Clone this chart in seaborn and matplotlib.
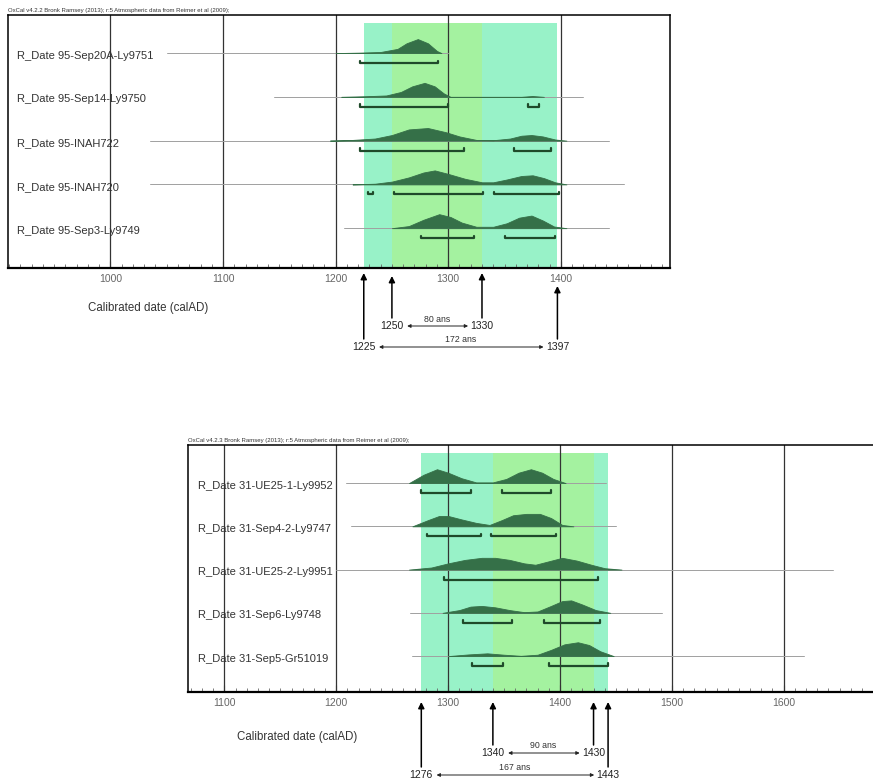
import numpy as np
import matplotlib
matplotlib.use("Agg")
import matplotlib.pyplot as plt
import matplotlib.transforms as mtransforms
import seaborn as sns

sns.set_theme(style="white")
plt.rcParams["font.family"] = ["Liberation Sans", "DejaVu Sans"]

# ---------------- phase 95 (top panel) ----------------
top_title = "OxCal v4.2.2 Bronk Ramsey (2013); r:5 Atmospheric data from Reimer et al (2009);"
top_names = ["R_Date 95-Sep20A-Ly9751", "R_Date 95-Sep14-Ly9750", "R_Date 95-INAH722",
             "R_Date 95-INAH720", "R_Date 95-Sep3-Ly9749"]
top_line_from = [1050, 1145, 1035, 1035, 1207]
top_line_to = [1300, 1420, 1443, 1456, 1443]
top_years = [
    [1200, 1220, 1240, 1255, 1263, 1273, 1282, 1290, 1294],
    [1205, 1225, 1245, 1258, 1268, 1279, 1288, 1296, 1302, 1365, 1375, 1385],
    [1195, 1215, 1235, 1250, 1265, 1282, 1298, 1310, 1325, 1340, 1355, 1365, 1374, 1384, 1395, 1405],
    [1215, 1235, 1250, 1265, 1278, 1288, 1300, 1315, 1330, 1340, 1352, 1365, 1375, 1385, 1395, 1405],
    [1250, 1265, 1278, 1292, 1302, 1312, 1325, 1340, 1352, 1363, 1374, 1384, 1394, 1405],
]
top_dens = [
    [0, 0.03, 0.08, 0.3, 0.7, 1.0, 0.7, 0.15, 0],
    [0, 0.04, 0.1, 0.35, 0.75, 1.0, 0.75, 0.25, 0, 0, 0.06, 0],
    [0, 0.05, 0.15, 0.4, 0.8, 0.9, 0.6, 0.3, 0.05, 0.03, 0.15, 0.35, 0.4, 0.3, 0.08, 0],
    [0, 0.05, 0.2, 0.5, 0.85, 1.0, 0.75, 0.4, 0.15, 0.15, 0.35, 0.6, 0.65, 0.45, 0.15, 0],
    [0, 0.15, 0.6, 1.0, 0.8, 0.4, 0.1, 0.1, 0.35, 0.75, 0.9, 0.55, 0.12, 0],
]
top_ranges = [
    [(1222, 1291)],
    [(1222, 1300), (1371, 1381)],
    [(1222, 1314), (1358, 1391)],
    [(1229, 1233), (1252, 1331), (1341, 1398)],
    [(1276, 1323), (1350, 1395)],
]
top_ticks = [1000, 1100, 1200, 1300, 1400]
top_band = [1225, 1250, 1330, 1397]

# ---------------- phase 31 (bottom panel) ----------------
bot_title = "OxCal v4.2.3 Bronk Ramsey (2013); r:5 Atmospheric data from Reimer et al (2009);"
bot_names = ["R_Date 31-UE25-1-Ly9952", "R_Date 31-Sep4-2-Ly9747", "R_Date 31-UE25-2-Ly9951",
             "R_Date 31-Sep6-Ly9748", "R_Date 31-Sep5-Gr51019"]
bot_line_from = [1209, 1213, 1200, 1266, 1268]
bot_line_to = [1441, 1450, 1644, 1491, 1618]
bot_years = [
    [1265, 1278, 1290, 1300, 1312, 1325, 1340, 1352, 1363, 1374, 1384, 1394, 1405],
    [1268, 1282, 1292, 1300, 1312, 1325, 1337, 1348, 1358, 1370, 1382, 1392, 1402, 1412],
    [1265, 1285, 1300, 1315, 1330, 1342, 1355, 1368, 1378, 1390, 1402, 1415, 1428, 1440, 1455],
    [1295, 1310, 1320, 1330, 1342, 1355, 1368, 1380, 1392, 1402, 1410, 1420, 1432, 1445],
    [1300, 1318, 1335, 1350, 1365, 1380, 1392, 1404, 1416, 1426, 1436, 1448],
]
bot_dens = [
    [0, 0.6, 1.0, 0.75, 0.35, 0.05, 0.05, 0.3, 0.75, 1.0, 0.75, 0.3, 0],
    [0, 0.45, 0.75, 0.75, 0.5, 0.25, 0.1, 0.45, 0.8, 0.9, 0.9, 0.6, 0.1, 0],
    [0, 0.15, 0.45, 0.7, 0.85, 0.85, 0.7, 0.45, 0.35, 0.6, 0.85, 0.65, 0.35, 0.1, 0],
    [0, 0.2, 0.45, 0.5, 0.4, 0.2, 0.05, 0.1, 0.5, 0.85, 0.9, 0.6, 0.2, 0],
    [0, 0.12, 0.2, 0.1, 0.02, 0.1, 0.45, 0.85, 1.0, 0.8, 0.35, 0],
]
bot_ranges = [
    [(1276, 1320), (1348, 1392)],
    [(1281, 1329), (1338, 1396)],
    [(1296, 1434)],
    [(1313, 1357), (1386, 1436)],
    [(1321, 1349), (1390, 1443)],
]
bot_ticks = [1100, 1200, 1300, 1400, 1500, 1600]
bot_band = [1276, 1340, 1430, 1443]

AQUA = "#98f2c8"
GREEN = "#a4f2a0"
DIST = "#357048"
BAR = "#1f4a2a"
H = 780.0


def draw_panel(ax, title, names, line_from, line_to, years, dens, ranges, ticks, band, xlim, ylim):
    ax.set_xlim(*xlim)
    ax.set_ylim(*ylim)
    ax.axvspan(band[0], band[3], ymax=0.968, color=AQUA, lw=0, zorder=0)
    ax.axvspan(band[1], band[2], ymax=0.968, color=GREEN, lw=0, zorder=0)
    for t in ticks:
        ax.axvline(t, color="#333333", lw=0.9, zorder=1)
    for i, name in enumerate(names):
        sns.lineplot(x=[line_from[i], line_to[i]], y=[i, i], ax=ax, color="#a0a0a0",
                     lw=0.7, zorder=2)
        y = np.array(dens[i]) * 0.32
        ax.fill_between(years[i], i, i - y, color=DIST, lw=0.6, zorder=3)
        for a, b in ranges[i]:
            ax.plot([a, a, b, b], [i + 0.17, i + 0.23, i + 0.23, i + 0.17], color=BAR,
                    lw=1.6, zorder=4)
        ax.text(0.014, i + 0.06, name, transform=ax.get_yaxis_transform(), fontsize=8,
                color="#333333", va="center", ha="left", zorder=5)
    ax.set_xticks(ticks)
    ax.set_xticks(np.arange(xlim[0] // 10 * 10 + 10, xlim[1], 10), minor=True)
    ax.set_yticks([])
    ax.tick_params(axis="x", which="major", direction="in", length=5, width=0.8,
                   color="#555555", labelsize=7.5, labelcolor="#666666", pad=4, bottom=True)
    ax.tick_params(axis="x", which="minor", direction="in", length=3, width=0.6,
                   color="#666666", bottom=True)
    for s in ax.spines.values():
        s.set_color("black")
        s.set_linewidth(1.1)
    ax.spines["bottom"].set_linewidth(1.6)
    ax.text(0, 1.008, title, transform=ax.transAxes, fontsize=4.3, color="#333333",
            va="bottom", ha="left")


def annotate_band(fig, ax, band, heads, inner_y, outer_y):
    tr = mtransforms.blended_transform_factory(ax.transData, fig.transFigure)
    fy = lambda px: 1 - px / H
    label_y = [outer_y, inner_y, inner_y, outer_y]
    for year, head, ly in zip(band, heads, label_y):
        ax.annotate("", xy=(year, fy(head)), xytext=(year, fy(ly - 8)), xycoords=tr,
                    textcoords=tr, annotation_clip=False,
                    arrowprops=dict(arrowstyle="-|>", color="black", lw=1.1,
                                    mutation_scale=9, shrinkA=0, shrinkB=0))
        ax.text(year, fy(ly), str(year), transform=tr, ha="center", va="center",
                fontsize=7.5, color="#222222")
    for (a, b), ly in [((band[1], band[2]), inner_y), ((band[0], band[3]), outer_y)]:
        ax.annotate("", xy=(b, fy(ly)), xytext=(a, fy(ly)), xycoords=tr, textcoords=tr,
                    annotation_clip=False,
                    arrowprops=dict(arrowstyle="<|-|>", color="#222222", lw=0.7,
                                    mutation_scale=5, shrinkA=11, shrinkB=10))
        ax.text((a + b) / 2, fy(ly - 7), f"{b - a} ans", transform=tr, ha="center",
                va="center", fontsize=6.3, color="#333333")


fig = plt.figure(figsize=(8.73, 7.8), dpi=100)

ax1 = fig.add_axes([8 / 873, 1 - 268 / H, 662 / 873, 253 / H])
draw_panel(ax1, top_title, top_names, top_line_from, top_line_to, top_years, top_dens,
           top_ranges, top_ticks, top_band, (909, 1497), (4.91, -0.87))
annotate_band(fig, ax1, top_band, [273, 276, 273, 286], 326, 347)
fig.text(88 / 873, 1 - 308 / H, "Calibrated date (calAD)", fontsize=8.3, color="#333333",
         va="center", ha="left")

ax2 = fig.add_axes([188 / 873, 1 - 692 / H, 697 / 873, 247 / H])
draw_panel(ax2, bot_title, bot_names, bot_line_from, bot_line_to, bot_years, bot_dens,
           bot_ranges, bot_ticks, bot_band, (1067.4, 1690.6), (4.83, -0.88))
annotate_band(fig, ax2, bot_band, [702, 702, 702, 702], 753, 775)
fig.text(237 / 873, 1 - 737 / H, "Calibrated date (calAD)", fontsize=8.3, color="#333333",
         va="center", ha="left")

fig.savefig("out.png", dpi=100)
